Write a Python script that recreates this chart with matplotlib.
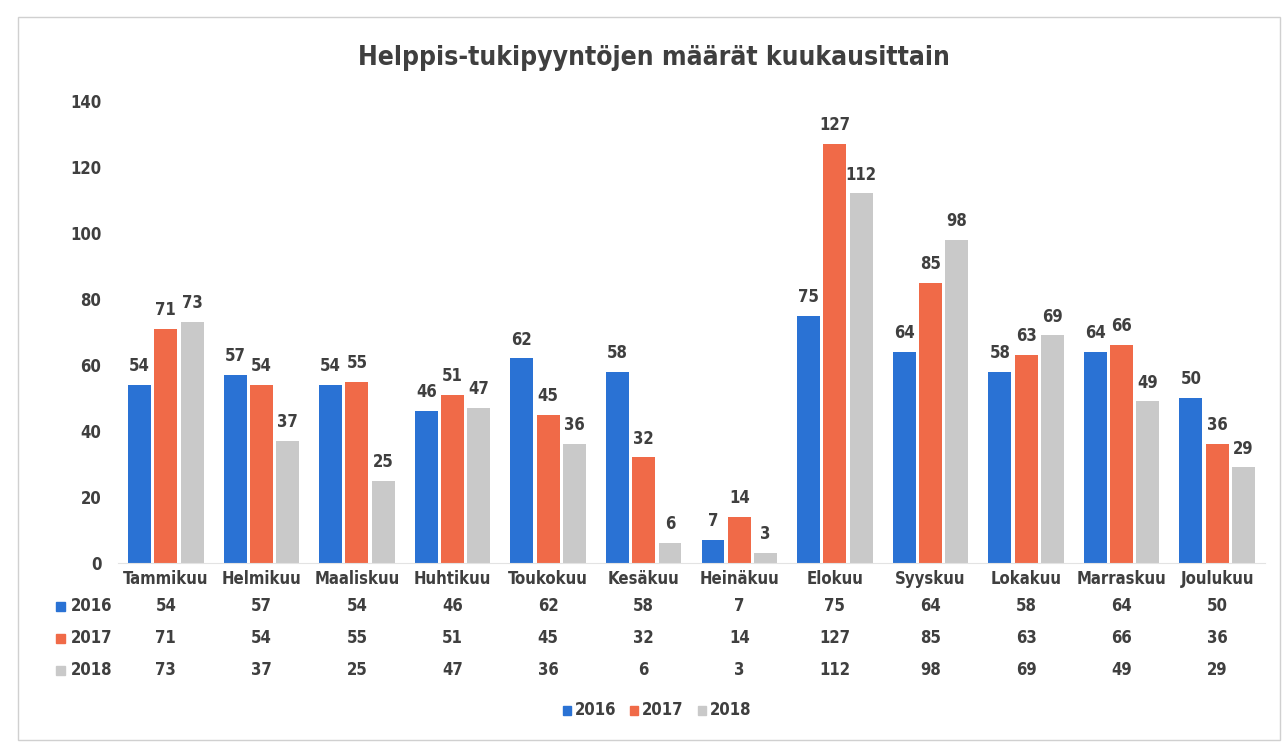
import matplotlib
matplotlib.use("Agg")
import matplotlib.pyplot as plt
from matplotlib.patches import Rectangle
from matplotlib.transforms import blended_transform_factory
import numpy as np

months = ["Tammikuu", "Helmikuu", "Maaliskuu", "Huhtikuu", "Toukokuu", "Kesäkuu",
          "Heinäkuu", "Elokuu", "Syyskuu", "Lokakuu", "Marraskuu", "Joulukuu"]
years = ["2016", "2017", "2018"]
v2016 = [54, 57, 54, 46, 62, 58, 7, 75, 64, 58, 64, 50]
v2017 = [71, 54, 55, 51, 45, 32, 14, 127, 85, 63, 66, 36]
v2018 = [73, 37, 25, 47, 36, 6, 3, 112, 98, 69, 49, 29]
y_ticks = [0, 20, 40, 60, 80, 100, 120, 140]

series = [v2016, v2017, v2018]
colors = ["#2a72d4", "#f06a48", "#c9c9c9"]
txt = "#3f3f3f"

plt.rcParams["font.family"] = ["DejaVu Sans"]
plt.rcParams["font.stretch"] = "condensed"
plt.rcParams["font.weight"] = "bold"
FS = dict(fontweight="bold", fontstretch="condensed", color=txt)

fig = plt.figure(figsize=(12.87, 7.45), dpi=100)
ax = fig.add_axes([118 / 1287, 0.2443, 1147 / 1287, 0.6201])

x = np.arange(len(months))
w = 0.24
offs = [-0.275, 0.0, 0.275]
for vals, c, o in zip(series, colors, offs):
    bars = ax.bar(x + o, vals, width=w, color=c, zorder=2)
    for b, v in zip(bars, vals):
        ax.annotate(str(v), (b.get_x() + b.get_width() / 2, v),
                    xytext=(0, 7), textcoords="offset points",
                    ha="center", va="bottom", fontsize=12, **FS)

ax.set_xlim(-0.5, len(months) - 0.5)
ax.set_ylim(0, 140)
ax.set_yticks(y_ticks)
ax.set_yticklabels([str(t) for t in y_ticks], fontsize=12, **FS)
ax.tick_params(axis="y", length=0, pad=12)
ax.set_xticks([])
for s in ["top", "right", "left"]:
    ax.spines[s].set_visible(False)
ax.spines["bottom"].set_color("#e3e3e3")
ax.spines["bottom"].set_zorder(3)

# month names and data table beneath the bars
tr = blended_transform_factory(ax.transData, fig.transFigure)
def fy(py):
    return 1 - py / 745.0

for i, m in enumerate(months):
    ax.text(i, fy(579), m, transform=tr, ha="center", va="center",
            fontsize=12, **FS)

row_y = [606, 638, 670]
for r, (yr, vals, c) in enumerate(zip(years, series, colors)):
    yy = fy(row_y[r])
    fig.patches.append(Rectangle((56 / 1287, yy - 4.5 / 745), 9 / 1287, 9 / 745,
                                 transform=fig.transFigure, color=c))
    fig.text(71 / 1287, yy, yr, ha="left", va="center", fontsize=12, **FS)
    for i, v in enumerate(vals):
        ax.text(i, yy, str(v), transform=tr, ha="center", va="center",
                fontsize=12, **FS)

# legend at the bottom
leg_x = [563, 630, 698]
for lx, yr, c in zip(leg_x, years, colors):
    fig.patches.append(Rectangle((lx / 1287, fy(710) - 4.5 / 745), 8 / 1287, 9 / 745,
                                 transform=fig.transFigure, color=c))
    fig.text((lx + 12) / 1287, fy(710), yr, ha="left", va="center",
             fontsize=12, **FS)

fig.text(654 / 1287, fy(58), "Helppis-tukipyyntöjen määrät kuukausittain", ha="center",
         va="center", fontsize=19, **FS)

# chart frame
fig.patches.append(Rectangle((18 / 1287, fy(740)), 1262 / 1287, 723 / 745,
                             transform=fig.transFigure, fill=False,
                             edgecolor="#d0d0d0", linewidth=1.0))

fig.savefig("out.png", dpi=100, facecolor="white")
